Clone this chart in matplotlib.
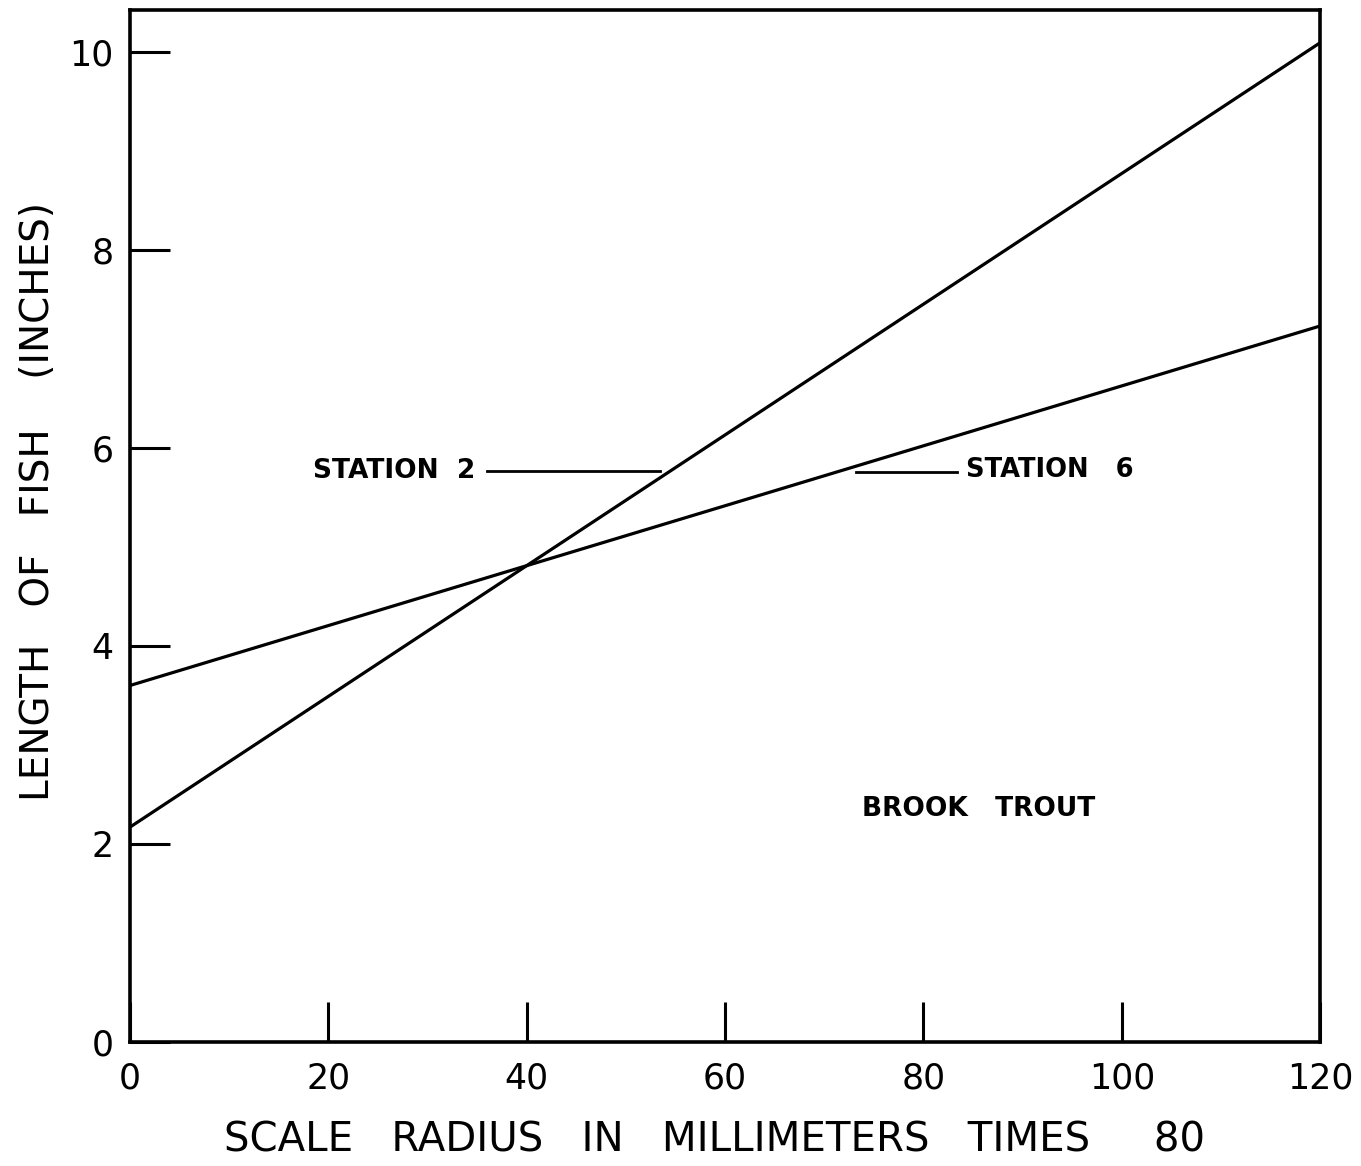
import matplotlib.pyplot as plt

# regression lines (end points at x = 0 and 120)
radius = [0, 120]
station2 = [2.17, 10.09]
station6 = [3.60, 7.23]

xticks = [0, 20, 40, 60, 80, 100, 120]
yticks = [0, 2, 4, 6, 8, 10]

fig = plt.figure(figsize=(13.61, 11.66), dpi=100)
ax = fig.add_axes([0.0955, 0.1063, 0.8745, 0.8851])

ax.plot(radius, station2, color='black', lw=2.3)
ax.plot(radius, station6, color='black', lw=2.3)

ax.set_xlim(0, 120)
ax.set_ylim(0, 10.42)
ax.set_xticks(xticks)
ax.set_yticks(yticks)
ax.set_xticklabels([str(v) for v in xticks])
ax.set_yticklabels([str(v) for v in yticks])
ax.tick_params(direction='in', length=29, width=2.2, labelsize=25, color='black')
ax.tick_params(axis='x', pad=14)
ax.tick_params(axis='y', pad=12)
for s in ax.spines.values():
    s.set_linewidth(2.6)

# leader lines and labels
ax.plot([36, 53.4], [5.77, 5.77], color='black', lw=2.0)
ax.plot([73.2, 83.4], [5.76, 5.76], color='black', lw=2.0)
ax.text(34.8, 5.77, 'STATION  2', ha='right', va='center', fontsize=19, fontweight='bold')
ax.text(84.3, 5.78, 'STATION   6', ha='left', va='center', fontsize=18.5, fontweight='bold')
ax.text(73.8, 2.35, 'BROOK   TROUT', ha='left', va='center', fontsize=19, fontweight='bold')

fig.text(0.525, 0.022, 'SCALE   RADIUS   IN   MILLIMETERS   TIMES     80',
         ha='center', va='center', fontsize=29)
fig.text(0.028, 0.57, 'LENGTH   OF   FISH    (INCHES)', rotation=90,
         ha='center', va='center', fontsize=28)

fig.savefig('out.png', dpi=100)
